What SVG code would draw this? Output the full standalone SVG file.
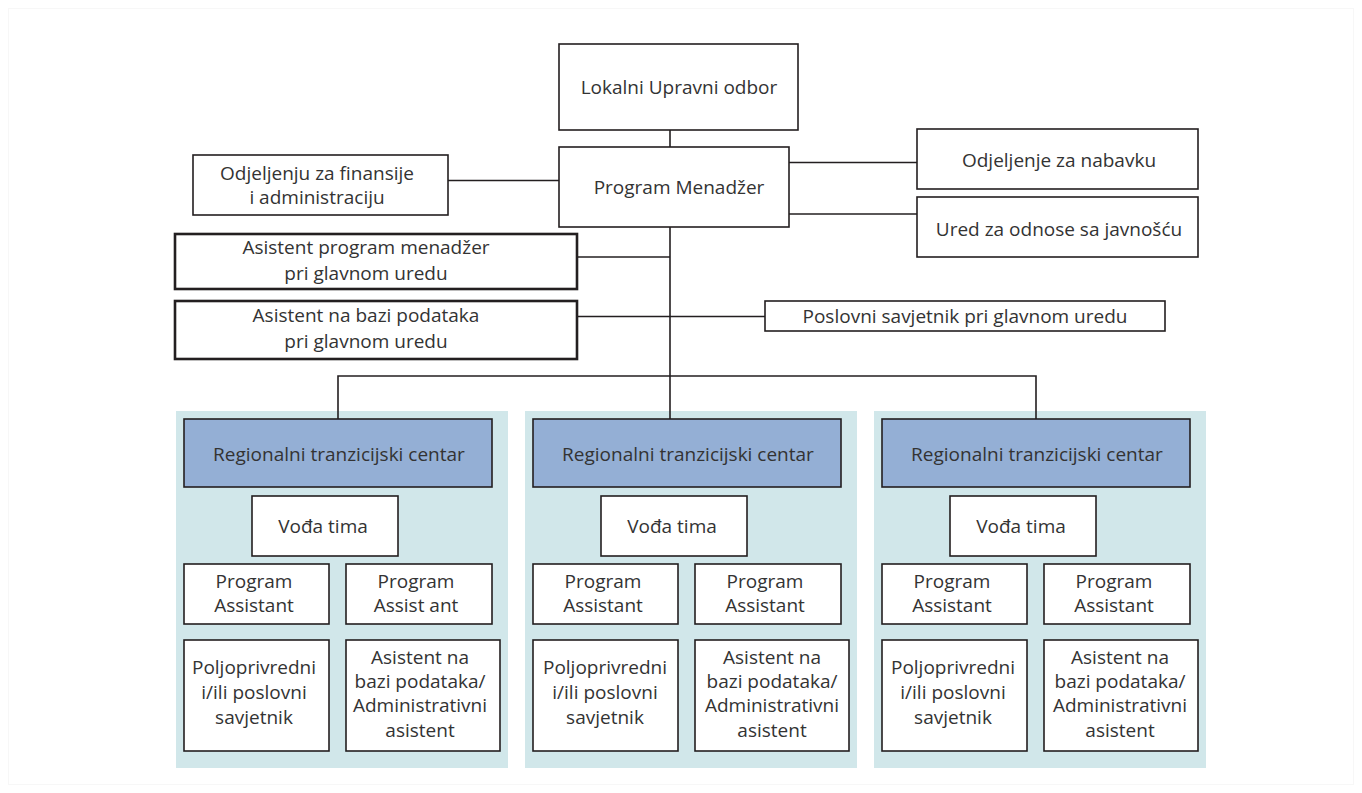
<svg xmlns="http://www.w3.org/2000/svg" width="1362" height="793" viewBox="0 0 1362 793">
  <style>
    .box { fill: #ffffff; stroke: #231f20; stroke-width: 1.6; }
    .thick { fill: #ffffff; stroke: #231f20; stroke-width: 2.6; }
    .rtc { fill: #94afd5; stroke: #231f20; stroke-width: 1.6; }
    .panel { fill: #d1e7ea; stroke: none; }
    .conn { fill: none; stroke: #231f20; stroke-width: 1.6; }
    text { font-family: "Open Sans", "Noto Sans", "Liberation Sans", sans-serif; font-size: 19px; fill: #333333; text-anchor: middle; }
  </style>
  <rect x="0" y="0" width="1362" height="793" fill="#ffffff"/>
  <rect x="8.5" y="8.5" width="1345" height="776" fill="none" stroke="#f7f7f7" stroke-width="1"/>

  <!-- panels -->
  <rect class="panel" x="176" y="411" width="332" height="357"/>
  <rect class="panel" x="525" y="411" width="332" height="357"/>
  <rect class="panel" x="874" y="411" width="332" height="357"/>

  <g id="connectors">
    <line class="conn" x1="670" y1="130" x2="670" y2="147"/>
    <line class="conn" x1="448" y1="180.5" x2="559" y2="180.5"/>
    <line class="conn" x1="789" y1="162.5" x2="917" y2="162.5"/>
    <line class="conn" x1="789" y1="214" x2="917" y2="214"/>
    <line class="conn" x1="670" y1="227" x2="670" y2="419"/>
    <line class="conn" x1="577" y1="257" x2="670" y2="257"/>
    <line class="conn" x1="577" y1="316.5" x2="765" y2="316.5"/>
    <polyline class="conn" points="338,419 338,376 1036,376 1036,419"/>
  </g>

  <g id="lokalni">
    <rect class="box" x="559" y="44" width="239" height="86"/>
    <text x="679" y="94">Lokalni Upravni odbor</text>
  </g>
  <g id="program-menadzer">
    <rect class="box" x="559" y="147" width="230" height="80"/>
    <text x="679" y="194">Program Menadžer</text>
  </g>
  <g id="odjeljenju-finansije">
    <rect class="box" x="193" y="155" width="255" height="60"/>
    <text x="317" y="180">Odjeljenju za finansije</text>
    <text x="317" y="204">i administraciju</text>
  </g>
  <g id="nabavka">
    <rect class="box" x="917" y="129" width="281" height="60"/>
    <text x="1059" y="167">Odjeljenje za nabavku</text>
  </g>
  <g id="ured-javnost">
    <rect class="box" x="917" y="197" width="281" height="60"/>
    <text x="1059" y="236">Ured za odnose sa javnošću</text>
  </g>
  <g id="asistent-pm">
    <rect class="thick" x="175" y="234" width="402" height="55"/>
    <text x="366" y="254">Asistent program menadžer</text>
    <text x="366" y="280">pri glavnom uredu</text>
  </g>
  <g id="asistent-bp">
    <rect class="thick" x="175" y="301" width="402" height="58"/>
    <text x="366" y="322">Asistent na bazi podataka</text>
    <text x="366" y="348">pri glavnom uredu</text>
  </g>
  <g id="poslovni-savjetnik">
    <rect class="box" x="765" y="301" width="400" height="30"/>
    <text x="965" y="323">Poslovni savjetnik pri glavnom uredu</text>
  </g>

  <!-- Region 1 -->
  <g id="rtc1">
    <rect class="rtc" x="184" y="419" width="308" height="68"/>
    <text x="339" y="461">Regionalni tranzicijski centar</text>
  </g>
  <g id="voda1">
    <rect class="box" x="252" y="496" width="146" height="60"/>
    <text x="323" y="533">Vođa tima</text>
  </g>
  <g id="pa1a">
    <rect class="box" x="184" y="564" width="145" height="60"/>
    <text x="254" y="588">Program</text>
    <text x="254" y="612">Assistant</text>
  </g>
  <g id="pa1b">
    <rect class="box" x="346" y="564" width="146" height="60"/>
    <text x="416" y="588">Program</text>
    <text x="416" y="612">Assist ant</text>
  </g>
  <g id="pol1">
    <rect class="box" x="184" y="640" width="145" height="111"/>
    <text x="254" y="674">Poljoprivredni</text>
    <text x="254" y="699">i/ili poslovni</text>
    <text x="254" y="724">savjetnik</text>
  </g>
  <g id="adm1">
    <rect class="box" x="346" y="640" width="154" height="111"/>
    <text x="420" y="664">Asistent na</text>
    <text x="420" y="688">bazi podataka/</text>
    <text x="420" y="712">Administrativni</text>
    <text x="420" y="737">asistent</text>
  </g>

  <!-- Region 2 -->
  <g id="rtc2">
    <rect class="rtc" x="533" y="419" width="308" height="68"/>
    <text x="688" y="461">Regionalni tranzicijski centar</text>
  </g>
  <g id="voda2">
    <rect class="box" x="601" y="496" width="146" height="60"/>
    <text x="672" y="533">Vođa tima</text>
  </g>
  <g id="pa2a">
    <rect class="box" x="533" y="564" width="145" height="60"/>
    <text x="603" y="588">Program</text>
    <text x="603" y="612">Assistant</text>
  </g>
  <g id="pa2b">
    <rect class="box" x="695" y="564" width="146" height="60"/>
    <text x="765" y="588">Program</text>
    <text x="765" y="612">Assistant</text>
  </g>
  <g id="pol2">
    <rect class="box" x="533" y="640" width="145" height="111"/>
    <text x="605" y="674">Poljoprivredni</text>
    <text x="605" y="699">i/ili poslovni</text>
    <text x="605" y="724">savjetnik</text>
  </g>
  <g id="adm2">
    <rect class="box" x="695" y="640" width="154" height="111"/>
    <text x="772" y="664">Asistent na</text>
    <text x="772" y="688">bazi podataka/</text>
    <text x="772" y="712">Administrativni</text>
    <text x="772" y="737">asistent</text>
  </g>

  <!-- Region 3 -->
  <g id="rtc3">
    <rect class="rtc" x="882" y="419" width="308" height="68"/>
    <text x="1037" y="461">Regionalni tranzicijski centar</text>
  </g>
  <g id="voda3">
    <rect class="box" x="950" y="496" width="146" height="60"/>
    <text x="1021" y="533">Vođa tima</text>
  </g>
  <g id="pa3a">
    <rect class="box" x="882" y="564" width="145" height="60"/>
    <text x="952" y="588">Program</text>
    <text x="952" y="612">Assistant</text>
  </g>
  <g id="pa3b">
    <rect class="box" x="1044" y="564" width="146" height="60"/>
    <text x="1114" y="588">Program</text>
    <text x="1114" y="612">Assistant</text>
  </g>
  <g id="pol3">
    <rect class="box" x="882" y="640" width="145" height="111"/>
    <text x="953" y="674">Poljoprivredni</text>
    <text x="953" y="699">i/ili poslovni</text>
    <text x="953" y="724">savjetnik</text>
  </g>
  <g id="adm3">
    <rect class="box" x="1044" y="640" width="154" height="111"/>
    <text x="1120" y="664">Asistent na</text>
    <text x="1120" y="688">bazi podataka/</text>
    <text x="1120" y="712">Administrativni</text>
    <text x="1120" y="737">asistent</text>
  </g>
</svg>
